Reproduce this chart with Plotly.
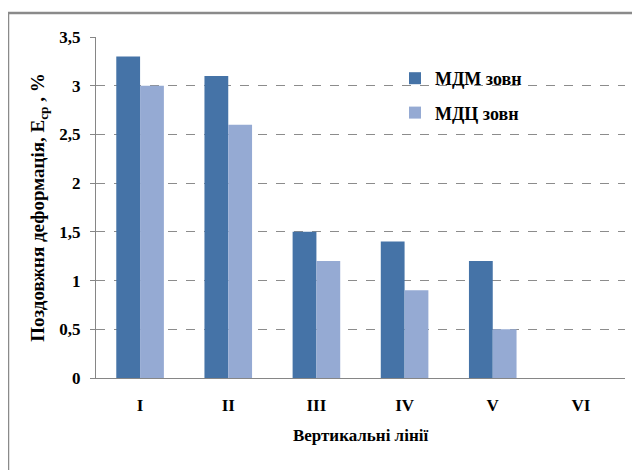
import plotly.graph_objects as go

categories = ["I", "II", "III", "IV", "V", "VI"]
mdm_values = [3.3, 3.1, 1.5, 1.4, 1.2, 0]
mdc_values = [3.0, 2.6, 1.2, 0.9, 0.5, 0]
series_names = ["МДМ зовн", "МДЦ зовн"]
y_ticks = [0, 0.5, 1, 1.5, 2, 2.5, 3, 3.5]

FONT = "Liberation Serif"

L, T, PW, PH = 88, 29, 529, 341
W, H = 640, 470

def bfont(size):
    return dict(family=FONT, size=size, color="black", weight="bold")

fig = go.Figure()
fig.add_trace(go.Bar(x=categories, y=mdm_values, name=series_names[0],
                     marker=dict(color="#4573A7", line=dict(width=0)), legendgroup="a"))
fig.add_trace(go.Bar(x=categories, y=mdc_values, name=series_names[1],
                     marker=dict(color="#95AAD3", line=dict(width=0)), legendgroup="b"))

fig.update_layout(
    width=W, height=H,
    margin=dict(l=L, r=W - L - PW, t=T, b=H - T - PH),
    paper_bgcolor="white", plot_bgcolor="white",
    separators=",.",
    barmode="group", bargap=0.46, bargroupgap=0,
    font=bfont(15),
    showlegend=True,
    legend=dict(x=(395 - 96) / PW, y=1 - (60 - 37) / PH, xanchor="left", yanchor="top",
                bgcolor="rgba(0,0,0,0)", font=bfont(18),
                tracegroupgap=8, itemwidth=30),
    xaxis=dict(
        showline=True, linecolor="#868686", linewidth=1,
        ticks="", tickfont=bfont(17), ticklabelstandoff=12,
        title=dict(text="Вертикальні лінії", font=bfont(17), standoff=14),
    ),
    yaxis=dict(
        range=[0, 3.5], tickvals=y_ticks,
        showline=True, linecolor="#868686", linewidth=1,
        ticks="outside", ticklen=5, tickcolor="#868686",
        showgrid=True, gridcolor="#8c8c8c", griddash="dash", gridwidth=1,
        zeroline=False,
        tickfont=bfont(17), ticklabelstandoff=6,
        title=dict(text="Поздовжня деформація, E<sub>ср</sub> , %",
                   font=bfont(19), standoff=9),
    ),
    shapes=[dict(type="rect", xref="paper", yref="paper",
                 x0=(0 - L) / PW, x1=1.3, y0=-0.5, y1=1 + (T - 5) / PH,
                 line=dict(color="#8a8a8a", width=2.5), layer="below")],
)

fig.write_html("out.html")
